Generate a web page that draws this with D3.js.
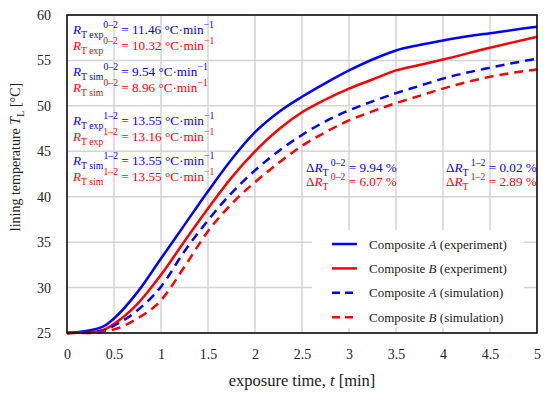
<!DOCTYPE html>
<html>
<head>
<meta charset="utf-8">
<script src="https://cdn.jsdelivr.net/npm/d3@7"></script>
<style>
  body { margin: 0; background: #fff; }
  text { font-family: "Liberation Serif", "DejaVu Serif", serif; }
</style>
</head>
<body>
<svg id="chart" width="550" height="397"></svg>
<script>
// time points [min]
const times = [0, 0.25, 0.4, 0.5, 0.75, 1, 1.25, 1.5, 1.75, 2, 2.25, 2.5, 2.75, 3, 3.25, 3.5, 3.75, 4, 4.5, 5];

// lining temperature [°C]
const compAExp = [25.0, 25.3, 25.8, 26.6, 29.5, 33.2, 36.9, 40.6, 44.1, 47.1, 49.3, 51.0, 52.5, 53.9, 55.1, 56.1, 56.7, 57.2, 58.0, 58.7];
const compBExp = [25.0, 25.1, 25.4, 26.0, 28.2, 31.4, 35.1, 38.7, 42.1, 45.0, 47.4, 49.3, 50.7, 51.9, 52.9, 53.9, 54.5, 55.1, 56.4, 57.6];
const compASim = [25.0, 25.1, 25.3, 25.8, 27.5, 30.1, 34.0, 37.4, 40.4, 42.9, 45.0, 46.8, 48.3, 49.5, 50.5, 51.4, 52.2, 53.0, 54.2, 55.2];
const compBSim = [25.0, 25.0, 25.2, 25.4, 26.6, 28.6, 32.3, 36.2, 39.2, 41.6, 43.7, 45.6, 47.1, 48.4, 49.4, 50.3, 51.1, 51.9, 53.2, 54.0];

const seriesNames = ["A (experiment)", "B (experiment)", "A (simulation)", "B (simulation)"];
const xTicks = [0, 0.5, 1, 1.5, 2, 2.5, 3, 3.5, 4, 4.5, 5];
const yTicks = [25, 30, 35, 40, 45, 50, 55, 60];

// annotation values
const rateLabels = [
    ["exp", "0–2", "11.46", "10.32"],
    ["sim", "0–2", "9.54", "8.96"],
    ["exp", "1–2", "13.55", "13.16"],
    ["sim", "1–2", "13.55", "13.55"]
];
const deltaLabels = [
    ["0–2", "9.94", "6.07"],
    ["1–2", "0.02", "2.89"]
];

const BLUE = "#0000ff", RED = "#ff0000";
const svg = d3.select("#chart");
const margin = {left: 67, right: 13, top: 15, bottom: 64};
const W = 550 - margin.left - margin.right;
const H = 397 - margin.top - margin.bottom;

const x = d3.scaleLinear().domain([0, 5]).range([margin.left, margin.left + W]);
const y = d3.scaleLinear().domain([25, 60]).range([margin.top + H, margin.top]);

// grid lines
const grid = svg.append("g");
grid.selectAll(".vg").data(xTicks).enter().append("line")
    .attr("x1", d => x(d)).attr("x2", d => x(d))
    .attr("y1", y(25)).attr("y2", y(60))
    .attr("stroke", "#d4d4d4").attr("stroke-width", 1.5);
grid.selectAll(".hg").data(yTicks).enter().append("line")
    .attr("x1", x(0)).attr("x2", x(5))
    .attr("y1", d => y(d)).attr("y2", d => y(d))
    .attr("stroke", "#d4d4d4").attr("stroke-width", 1.5);

// axes (labels only, frame drawn below)
const xAxis = svg.append("g").attr("transform", `translate(0,${y(25)})`)
    .call(d3.axisBottom(x).tickValues(xTicks).tickSize(0).tickPadding(16).tickFormat(d => String(d)));
const yAxis = svg.append("g").attr("transform", `translate(${x(0)},0)`)
    .call(d3.axisLeft(y).tickValues(yTicks).tickSize(0).tickPadding(16));
[xAxis, yAxis].forEach(a => {
    a.select(".domain").remove();
    a.selectAll("text").attr("font-size", 14).attr("fill", "#222");
});

// text helper: parts = [text, kind] where kind is "", "i", "sub", "sup"
function richText(sel, px, py, color, size, parts) {
    const t = sel.append("text").attr("x", px).attr("y", py)
        .attr("fill", color).attr("font-size", size);
    let shift = 0;
    parts.forEach(p => {
        let target = 0, fs = size;
        if (p[1] === "sub") { target = 4; fs = size * 0.74; }
        if (p[1] === "sup") { target = -6; fs = size * 0.74; }
        const ts = t.append("tspan").text(p[0]).attr("font-size", fs)
            .attr("dy", target - shift);
        if (p[1] === "i") ts.attr("font-style", "italic");
        shift = target;
    });
    return t;
}

// curves
const lineGen = d3.line().x(d => x(d[0])).y(d => y(d[1])).curve(d3.curveMonotoneX);
const curves = [
    {vals: compAExp, color: BLUE, dash: null},
    {vals: compBExp, color: RED, dash: null},
    {vals: compASim, color: BLUE, dash: "9,6"},
    {vals: compBSim, color: RED, dash: "9,6"}
];

// annotations in the upper left
const ann = svg.append("g");
const rowY = [34, 76, 125, 165];
rateLabels.forEach((r, i) => {
    [[BLUE, r[2], 0], [RED, r[3], 15.5]].forEach(c => {
        richText(ann, 73, rowY[i] + c[2], c[0], 13.2, [
            ["R", "i"], ["T " + r[0], "sub"], [r[1], "sup"],
            [" = " + c[1] + " °C·min", ""], ["−1", "sup"]
        ]);
    });
});
const deltaX = [306, 446];
deltaLabels.forEach((r, i) => {
    [[BLUE, r[1], 0], [RED, r[2], 14]].forEach(c => {
        richText(ann, deltaX[i], 172 + c[2], c[0], 13.2, [
            ["Δ", ""], ["R", "i"], ["T", "sub"], [" " + r[0], "sup"],
            [" = " + c[1] + " %", ""]
        ]);
    });
});

// legend with white box
const leg = svg.append("g");
leg.append("rect").attr("x", 312).attr("y", 230).attr("width", 212).attr("height", 98)
    .attr("fill", "#fff");
curves.forEach((c, i) => {
    const ly = 244 + i * 24.4;
    leg.append("line").attr("x1", 332).attr("x2", 357).attr("y1", ly).attr("y2", ly)
        .attr("stroke", c.color).attr("stroke-width", 2.5)
        .attr("stroke-dasharray", c.dash ? "8,5" : null);
    const nm = seriesNames[i].split(" ");
    richText(leg, 369, ly + 4.5, "#222", 13, [
        ["Composite ", ""], [nm[0], "i"], [" " + nm.slice(1).join(" "), ""]
    ]);
});

svg.append("g").selectAll("path").data(curves).enter().append("path")
    .attr("d", c => lineGen(times.map((t, i) => [t, c.vals[i]])))
    .attr("fill", "none")
    .attr("stroke", c => c.color)
    .attr("stroke-width", 2.5)
    .attr("stroke-dasharray", c => c.dash);

// plot frame
svg.append("rect").attr("x", x(0)).attr("y", y(60))
    .attr("width", x(5) - x(0)).attr("height", y(25) - y(60))
    .attr("fill", "none").attr("stroke", "#111").attr("stroke-width", 1.6);

// axis titles
richText(svg, 302, 386, "#222", 16.5, [["exposure time, ", ""], ["t", "i"], [" [min]", ""]])
    .attr("text-anchor", "middle");
richText(svg, 0, 0, "#222", 14, [["lining temperature ", ""], ["T", "i"], ["L", "sub"], [" [°C]", ""]])
    .attr("text-anchor", "middle")
    .attr("transform", "translate(20,157) rotate(-90)");
</script>
</body>
</html>
